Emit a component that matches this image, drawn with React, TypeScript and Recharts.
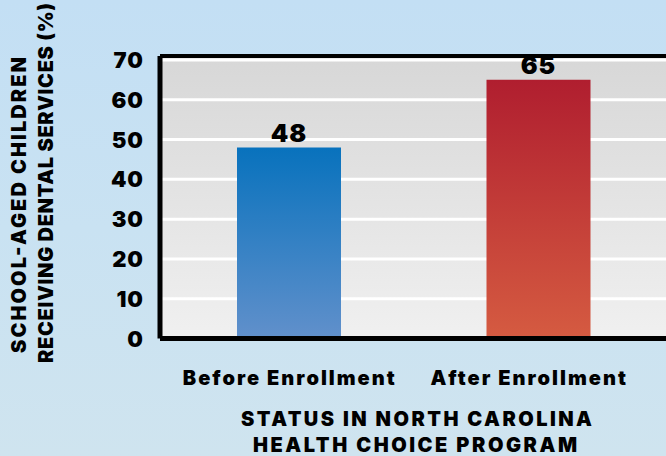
import { BarChart, Bar, XAxis, YAxis, CartesianGrid, Cell, LabelList, ReferenceLine, Label } from "recharts";

// ---------------------------------------------------------------------------
// Data
// ---------------------------------------------------------------------------
const categories = ["Before Enrollment", "After Enrollment"];
const percentReceiving = [48, 65];
const yTicks = [0, 10, 20, 30, 40, 50, 60, 70];

const barGradients = [
  { id: "barBlue", top: "#0872bd", bottom: "#6190cb" },
  { id: "barRed", top: "#b01e2f", bottom: "#d55b41" },
];

// the second category label sits a little left of its bar
const tickNudge = [0, -10];

const chartData = categories.map((name, i) => ({ name, value: percentReceiving[i] }));

const FONT = "Inter, 'DejaVu Sans', sans-serif";

// ---------------------------------------------------------------------------
// Custom ticks / labels
// ---------------------------------------------------------------------------
function YTick(props: { x?: number; y?: number; payload?: { value: number } }) {
  const { x = 0, y = 0, payload } = props;
  return (
    <text x={x} y={y} dy={8} textAnchor="end" fontFamily={FONT} fontWeight={900} fontSize={22} letterSpacing={1} fill="#000">
      {payload?.value}
    </text>
  );
}

function CategoryTick(props: { x?: number; y?: number; index?: number; payload?: { value: string } }) {
  const { x = 0, y = 0, index = 0, payload } = props;
  return (
    <text
      x={x + 1 + (tickNudge[index] ?? 0)}
      y={y + 38}
      textAnchor="middle"
      fontFamily={FONT}
      fontWeight={900}
      fontSize={20}
      letterSpacing={2}
      fill="#000"
    >
      {payload?.value}
    </text>
  );
}

function ValueLabel(props: { x?: number; y?: number; width?: number; value?: number }) {
  const { x = 0, y = 0, width = 0, value } = props;
  return (
    <text x={Number(x) + Number(width) / 2} y={Number(y) - 6} textAnchor="middle" fontFamily={FONT} fontWeight={900} fontSize={25} letterSpacing={1} fill="#000">
      {value}
    </text>
  );
}

function YTitle() {
  return (
    <g fontFamily={FONT} fontWeight={900} fontSize={20} fill="#000">
      <text
        transform="translate(19,205) rotate(-90)"
        textAnchor="middle"
        dominantBaseline="central"
        textLength={296}
        lengthAdjust="spacing"
      >
        SCHOOL-AGED CHILDREN
      </text>
      <text
        transform="translate(45.5,183) rotate(-90)"
        textAnchor="middle"
        dominantBaseline="central"
        textLength={360}
        lengthAdjust="spacing"
      >
        RECEIVING DENTAL SERVICES (%)
      </text>
    </g>
  );
}

function XTitle() {
  return (
    <g fontFamily={FONT} fontWeight={900} fontSize={20} fill="#000" textAnchor="middle">
      <text x={416.5} y={426} textLength={351} lengthAdjust="spacing">
        STATUS IN NORTH CAROLINA
      </text>
      <text x={415} y={452} textLength={324} lengthAdjust="spacing">
        HEALTH CHOICE PROGRAM
      </text>
    </g>
  );
}

// ---------------------------------------------------------------------------
// Chart
// ---------------------------------------------------------------------------
export default function App() {
  return (
    <div
      style={{
        position: "absolute",
        left: 0,
        top: 0,
        width: 666,
        height: 456,
        overflow: "hidden",
        background: "linear-gradient(180deg, #c3dff4 0%, #c9e2f2 50%, #cfe4ef 100%)",
      }}
    >
      <BarChart
        width={666}
        height={456}
        data={chartData}
        margin={{ top: 56, right: 0, bottom: 0, left: 0 }}
        barSize={104}
      >
        <defs>
          <linearGradient id="plotBg" x1="0" y1="0" x2="0" y2="1">
            <stop offset="0%" stopColor="#d7d7d7" />
            <stop offset="100%" stopColor="#f0f0f0" />
          </linearGradient>
          {barGradients.map((g) => (
            <linearGradient key={g.id} id={g.id} x1="0" y1="0" x2="0" y2="1">
              <stop offset="0%" stopColor={g.top} />
              <stop offset="100%" stopColor={g.bottom} />
            </linearGradient>
          ))}
        </defs>
        <CartesianGrid
          vertical={false}
          horizontalValues={yTicks.slice(1)}
          stroke="#ffffff"
          strokeWidth={3}
          fill="url(#plotBg)"
          fillOpacity={1}
        />
        <XAxis
          dataKey="name"
          height={117.5}
          padding={{ left: 4, right: 3 }}
          tickLine={false}
          axisLine={{ stroke: "#000", strokeWidth: 5 }}
          tick={CategoryTick as never}
          interval={0}
        >
          <Label content={XTitle as never} />
        </XAxis>
        <YAxis
          width={160}
          domain={[0, 71]}
          ticks={yTicks}
          tickLine={false}
          tickSize={0}
          tickMargin={16}
          axisLine={{ stroke: "#000", strokeWidth: 5 }}
          tick={YTick as never}
        >
          <Label content={YTitle as never} />
        </YAxis>
        <ReferenceLine y={71} stroke="#000" strokeWidth={4} />
        <Bar dataKey="value" isAnimationActive={false}>
          {chartData.map((d, i) => (
            <Cell key={d.name} fill={`url(#${barGradients[i].id})`} />
          ))}
          <LabelList dataKey="value" content={ValueLabel as never} />
        </Bar>
      </BarChart>
    </div>
  );
}
